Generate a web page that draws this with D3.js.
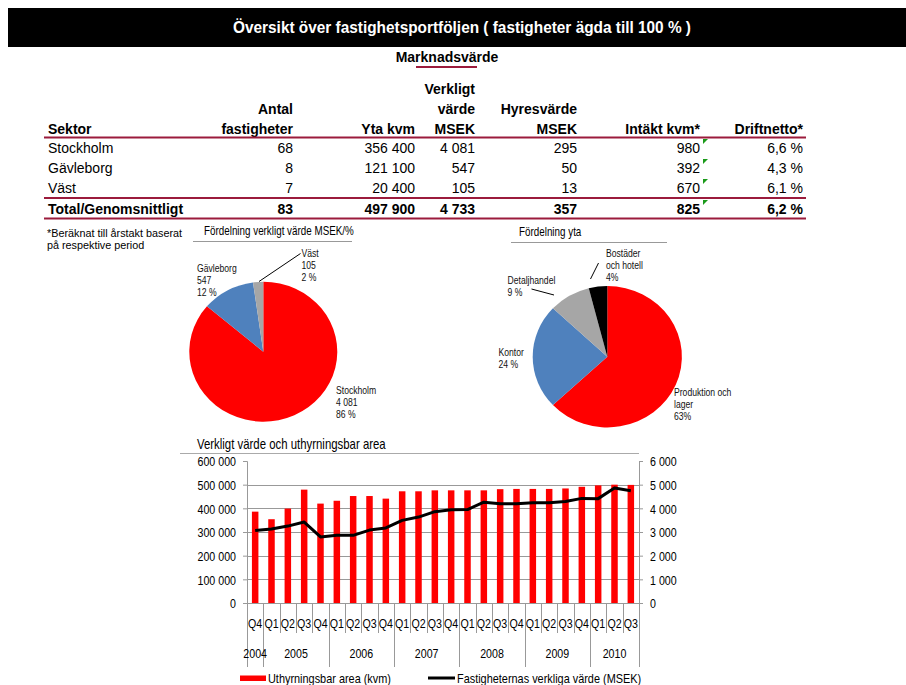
<!DOCTYPE html>
<html lang="sv">
<head>
<meta charset="UTF-8">
<title>Översikt över fastighetsportföljen</title>
<script src="https://d3js.org/d3.v7.min.js"></script>
<style>
    body { margin: 0; background: #fff; }
    svg { display: block; font-family: "Liberation Sans", Arial, sans-serif; }
    .hdr { font-weight: bold; font-size: 14px; }
    .cell { font-size: 14px; }
    .rule { stroke: #9b1b3c; stroke-width: 2; }
    .grid line { stroke: #999; stroke-width: 1; }
    .axis path, .axis line { stroke: #999; }
    .axis text { font-size: 13px; fill: #000; }
</style>
</head>
<body>
<svg width="906" height="685"></svg>
<script>
    // table data
    var sectors  = ["Stockholm", "Gävleborg", "Väst"];
    var antal    = [68, 8, 7];
    var yta      = [356400, 121100, 20400];
    var verkligt = [4081, 547, 105];
    var hyres    = [295, 50, 13];
    var intakt   = [980, 392, 670];
    var drift    = [6.6, 4.3, 6.1];
    var totals   = ["Total/Genomsnittligt", 83, 497900, 4733, 357, 825, 6.2];

    // pie: fördelning yta
    var ytaCats  = ["Produktion och lager", "Kontor", "Detaljhandel", "Bostäder och hotell"];
    var ytaPct   = [63, 24, 9, 4];
    var ytaLabels = [["Produktion och", "lager", "63%"], ["Kontor", "24 %"], ["Detaljhandel", "9 %"], ["Bostäder", "och hotell", "4%"]];

    // bar/line chart
    var periods = ["2004 Q4",
        "2005 Q1", "2005 Q2", "2005 Q3", "2005 Q4",
        "2006 Q1", "2006 Q2", "2006 Q3", "2006 Q4",
        "2007 Q1", "2007 Q2", "2007 Q3", "2007 Q4",
        "2008 Q1", "2008 Q2", "2008 Q3", "2008 Q4",
        "2009 Q1", "2009 Q2", "2009 Q3", "2009 Q4",
        "2010 Q1", "2010 Q2", "2010 Q3"];
    var area  = [386000, 354000, 399000, 479000, 420000, 432000, 452000, 452000, 441000, 472000, 472000, 476000,
                 476000, 476000, 476000, 481000, 482000, 482000, 482000, 484000, 491000, 497000, 500000, 499000];
    var value = [3060, 3130, 3250, 3420, 2790, 2860, 2860, 3080, 3170, 3490, 3630, 3860,
                 3940, 3950, 4260, 4190, 4190, 4240, 4240, 4290, 4420, 4410, 4860, 4740];
    var leftTicks  = [0, 100000, 200000, 300000, 400000, 500000, 600000];
    var rightTicks = [0, 1000, 2000, 3000, 4000, 5000, 6000];

    var se = d3.formatLocale({ decimal: ",", thousands: " ", grouping: [3], currency: ["", " kr"] });
    var fmtInt = se.format(",d");
    var fmtPct = function(v) { return se.format(".1f")(v) + " %"; };

    var svg = d3.select("svg");
    var NARROW = 0.82; // no narrow face installed, so squeeze the regular one

    // text squeezed horizontally around its anchor point
    function ntext(parent, x, y, str, size, anchor) {
        return parent.append("text")
            .attr("transform", "translate(" + x + "," + y + ") scale(" + NARROW + ",1)")
            .attr("font-size", size)
            .attr("text-anchor", anchor || "start")
            .text(str);
    }

    // ---- header bar
    svg.append("rect").attr("x", 8).attr("y", 8).attr("width", 898).attr("height", 39).attr("fill", "#000");
    svg.append("text")
        .attr("transform", "translate(462,33) scale(0.905,1)")
        .attr("text-anchor", "middle")
        .attr("fill", "#fff").attr("font-weight", "bold").attr("font-size", 17)
        .text("Översikt över fastighetsportföljen ( fastigheter ägda till 100 % )");

    // ---- table
    svg.append("text").attr("class", "hdr").attr("x", 447).attr("y", 62).attr("text-anchor", "middle").text("Marknadsvärde");
    svg.append("line").attr("class", "rule").attr("x1", 416).attr("x2", 477).attr("y1", 67).attr("y2", 67);

    var colRight = [293, 415, 475, 577, 700, 803];
    var headers = [["Antal", "fastigheter"], ["Yta kvm"], ["Verkligt", "värde", "MSEK"], ["Hyresvärde", "MSEK"], ["Intäkt kvm*"], ["Driftnetto*"]];

    svg.append("text").attr("class", "hdr").attr("x", 48).attr("y", 134).text("Sektor");
    headers.forEach(function(lines, c) {
        lines.slice().reverse().forEach(function(t, k) {
            svg.append("text").attr("class", "hdr").attr("x", colRight[c]).attr("y", 134 - k * 20)
                .attr("text-anchor", "end").text(t);
        });
    });

    var rowY = [153, 173, 193];
    var rows = sectors.map(function(s, i) {
        return [s, fmtInt(antal[i]), fmtInt(yta[i]), fmtInt(verkligt[i]), fmtInt(hyres[i]), fmtInt(intakt[i]), fmtPct(drift[i])];
    });
    var totalRow = [totals[0], fmtInt(totals[1]), fmtInt(totals[2]), fmtInt(totals[3]), fmtInt(totals[4]), fmtInt(totals[5]), fmtPct(totals[6])];

    function drawRow(cells, y, cls) {
        cells.forEach(function(t, c) {
            var tx = svg.append("text").attr("class", cls).attr("y", y).text(t);
            if (c === 0) tx.attr("x", 48);
            else tx.attr("x", colRight[c - 1]).attr("text-anchor", "end");
        });
        // comment marker on the Intäkt kvm cell
        svg.append("path").attr("fill", "#1a9a1a")
            .attr("d", "M703," + (y - 14) + "L708," + (y - 14) + "L703," + (y - 9) + "Z");
    }
    rows.forEach(function(r, i) { drawRow(r, rowY[i], "cell"); });
    drawRow(totalRow, 214, "hdr");

    [137.5, 198, 218.5].forEach(function(y) {
        svg.append("line").attr("class", "rule").attr("x1", 44).attr("x2", 806).attr("y1", y).attr("y2", y);
    });

    // footnote
    svg.append("text").attr("x", 47).attr("y", 237).attr("font-size", 10.8).text("*Beräknat till årstakt baserat");
    svg.append("text").attr("x", 47).attr("y", 249).attr("font-size", 10.8).text("på respektive period");

    // ---- pies
    var pieColors = ["#ff0000", "#4f81bd", "#a6a6a6", "#000000"];

    function drawPie(vals, cx, cy, r, sy) {
        var arcs = d3.pie().sort(null)(vals);
        var arc = d3.arc().innerRadius(0).outerRadius(r);
        var g = svg.append("g").attr("transform", "translate(" + cx + "," + cy + ") scale(1," + sy + ")");
        g.selectAll("path").data(arcs).enter().append("path")
            .attr("d", arc)
            .attr("fill", function(d, i) { return pieColors[i]; });
    }

    function pieTitle(t, x, y, x1, x2) {
        ntext(svg, x, y, t, 12);
        svg.append("line").attr("x1", x1).attr("x2", x2).attr("y1", y + 6.5).attr("y2", y + 6.5).attr("stroke", "#999");
    }

    function label(lines, x, y) {
        lines.forEach(function(s, k) {
            ntext(svg, x, y + k * 12, s, 10.5).attr("fill", "#111");
        });
    }

    pieTitle("Fördelning verkligt värde MSEK/%", 204, 235, 193, 352);
    drawPie(verkligt, 263.3, 351.7, 74, 0.946);
    var total1 = d3.sum(verkligt);
    var pct1 = verkligt.map(function(v) { return Math.round(v / total1 * 100) + " %"; });
    label([sectors[1], fmtInt(verkligt[1]), pct1[1]], 197, 272);
    label([sectors[2], fmtInt(verkligt[2]), pct1[2]], 301.5, 257);
    label([sectors[0], fmtInt(verkligt[0]), pct1[0]], 336, 394);
    svg.append("line").attr("x1", 259).attr("y1", 281.5).attr("x2", 300.5).attr("y2", 253.5).attr("stroke", "#000");

    pieTitle("Fördelning yta", 519, 236, 511, 667);
    drawPie(ytaPct, 607.3, 356.7, 74.6, 0.948);
    label(ytaLabels[0], 674, 396);
    label(ytaLabels[1], 498.5, 356);
    label(ytaLabels[2], 507.5, 284);
    label(ytaLabels[3], 606, 257);
    svg.append("line").attr("x1", 531.5).attr("y1", 289).attr("x2", 554).attr("y2", 295).attr("stroke", "#000");
    svg.append("line").attr("x1", 590.5).attr("y1", 279).attr("x2", 598.5).attr("y2", 263).attr("stroke", "#000");

    // ---- bar + line chart
    var x0 = 247, x1 = 639, yTop = 461, yBot = 603;
    var x = d3.scaleBand().domain(periods).range([x0, x1]).paddingInner(0.6).paddingOuter(0.3);
    var y = d3.scaleLinear().domain([0, 600000]).range([yBot, yTop]);
    var y2 = d3.scaleLinear().domain([0, 6000]).range([yBot, yTop]);
    var step = x.step();

    var chart = svg.append("g");

    ntext(chart, 197, 449, "Verkligt värde och uthyrningsbar area", 13.9);
    chart.append("line").attr("x1", 180).attr("x2", 639).attr("y1", 453.5).attr("y2", 453.5).attr("stroke", "#aaa");

    chart.append("g").attr("class", "grid").selectAll("line")
        .data(leftTicks.filter(function(v) { return v > 0 && v < 600000; }))
        .enter().append("line")
        .attr("x1", x0).attr("x2", x1)
        .attr("y1", function(d) { return Math.round(y(d)) + 0.5; })
        .attr("y2", function(d) { return Math.round(y(d)) + 0.5; });

    chart.append("g").selectAll("rect").data(periods).enter().append("rect")
        .attr("x", function(d) { return x(d) + (x.bandwidth() - 6.5) / 2; })
        .attr("width", 6.5)
        .attr("y", function(d, i) { return y(area[i]); })
        .attr("height", function(d, i) { return yBot - y(area[i]); })
        .attr("fill", "#ff0000");

    var leftAxis = d3.axisLeft(y).tickValues(leftTicks).tickSize(4).tickPadding(7).tickFormat(fmtInt);
    chart.append("g").attr("class", "axis").attr("transform", "translate(" + x0 + ",0)").call(leftAxis);
    var rightAxis = d3.axisRight(y2).tickValues(rightTicks).tickSize(4).tickPadding(7).tickFormat(fmtInt);
    chart.append("g").attr("class", "axis").attr("transform", "translate(" + x1 + ",0)").call(rightAxis);
    chart.selectAll(".axis text").each(function() {
        var t = d3.select(this), tx = +t.attr("x");
        t.attr("x", 0).attr("dy", "0.36em")
            .attr("transform", "translate(" + tx + ",0) scale(" + NARROW + ",1)");
    });

    // x axis baseline
    chart.append("line").attr("x1", x0).attr("x2", x1).attr("y1", yBot + 0.5).attr("y2", yBot + 0.5).attr("stroke", "#999");

    var line = d3.line()
        .x(function(d, i) { return x(periods[i]) + x.bandwidth() / 2; })
        .y(function(d) { return y2(d); });
    chart.append("path").datum(value).attr("d", line)
        .attr("fill", "none").attr("stroke", "#000").attr("stroke-width", 3).attr("stroke-linejoin", "round");

    // category axis: quarters and years
    var quarters = periods.map(function(p) { return p.split(" ")[1]; });
    var years = periods.map(function(p) { return p.split(" ")[0]; });
    for (var i = 0; i <= periods.length; i++) {
        var newYear = i === 0 || i === periods.length || years[i] !== years[i - 1];
        var lx = Math.round(x0 + i * step) + 0.5;
        chart.append("line").attr("x1", lx).attr("x2", lx)
            .attr("y1", yBot).attr("y2", newYear ? 667 : 633).attr("stroke", "#999");
    }
    quarters.forEach(function(q, i) {
        ntext(chart, x(periods[i]) + x.bandwidth() / 2, 628, q, 13, "middle");
    });

    var yearList = Array.from(new Set(years));
    yearList.forEach(function(yr) {
        var first = years.indexOf(yr), last = years.lastIndexOf(yr);
        ntext(chart, x0 + (first + last + 1) / 2 * step, 658, yr, 13, "middle");
    });

    // legend
    chart.append("rect").attr("x", 240).attr("y", 675.5).attr("width", 26).attr("height", 5.5).attr("fill", "#ff0000");
    ntext(chart, 268, 683, "Uthyrningsbar area (kvm)", 13.3);
    chart.append("line").attr("x1", 428).attr("x2", 455).attr("y1", 678).attr("y2", 678).attr("stroke", "#000").attr("stroke-width", 3);
    ntext(chart, 457, 683, "Fastigheternas verkliga värde (MSEK)", 13.3);
</script>
</body>
</html>
